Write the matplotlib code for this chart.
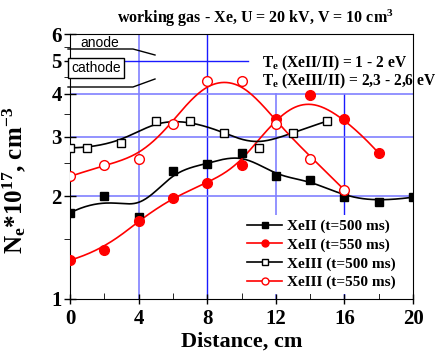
import numpy as np
import matplotlib.pyplot as plt
from matplotlib.lines import Line2D

# data (distance in cm, Ne in 1e17 cm^-3)
x_xe2_500 = [0, 2, 4, 6, 8, 10, 12, 14, 16, 18, 20]
y_xe2_500 = [1.79, 2.00, 1.74, 2.38, 2.49, 2.68, 2.29, 2.23, 1.99, 1.93, 1.99]

x_xe2_550 = [0, 2, 4, 6, 8, 10, 12, 14, 16, 18]
y_xe2_550 = [1.30, 1.39, 1.69, 1.98, 2.19, 2.47, 3.38, 3.97, 3.37, 2.68]

x_xe3_500 = [0, 1, 3, 5, 7, 9, 11, 13, 15]
y_xe3_500 = [2.78, 2.78, 2.88, 3.33, 3.33, 3.08, 2.78, 3.08, 3.33]

x_xe3_550 = [0, 2, 4, 6, 8, 10, 12, 14, 16]
y_xe3_550 = [2.29, 2.47, 2.58, 3.27, 4.37, 4.37, 3.27, 2.58, 2.09]

labels = ['XeII (t=500 ms)', 'XeII (t=550 ms)', 'XeIII (t=500 ms)', 'XeIII (t=550 ms)']
x_ticks = [0, 4, 8, 12, 16, 20]
y_ticks = [1, 2, 3, 4, 5, 6]


def bspline(xs, ys, n=300):
    # clamped cubic B-spline using the points as control points
    P = np.column_stack([xs, ys]).astype(float)
    k = 3
    m = len(P)
    knots = np.concatenate([[0] * k, np.linspace(0, 1, m - k + 1), [1] * k])
    t = np.linspace(0, 1, n)
    t[-1] = 1 - 1e-9
    B = np.zeros((n, len(knots) - 1))
    for i in range(len(knots) - 1):
        B[:, i] = (t >= knots[i]) & (t < knots[i + 1])
    for d in range(1, k + 1):
        Bn = np.zeros((n, len(knots) - 1 - d))
        for i in range(len(knots) - 1 - d):
            a = knots[i + d] - knots[i]
            b = knots[i + d + 1] - knots[i + 1]
            left = (t - knots[i]) / a * B[:, i] if a > 0 else 0
            right = (knots[i + d + 1] - t) / b * B[:, i + 1] if b > 0 else 0
            Bn[:, i] = left + right
        B = Bn
    C = B @ P
    return C[:, 0], C[:, 1]


plt.rcParams['font.family'] = 'Liberation Serif'
plt.rcParams['font.weight'] = 'bold'
plt.rcParams['mathtext.fontset'] = 'custom'
plt.rcParams['mathtext.bf'] = 'Liberation Serif:bold'
plt.rcParams['mathtext.rm'] = 'Liberation Serif:bold'
plt.rcParams['mathtext.it'] = 'Liberation Serif:bold'
plt.rcParams['mathtext.default'] = 'bf'

fig = plt.figure(figsize=(4.41, 3.58), dpi=100)
ax = fig.add_axes([70 / 441, 1 - 299 / 358, 343 / 441, 265 / 358])
ax.set_yscale('log')
ax.set_xlim(0, 20)
ax.set_ylim(1, 6)

light = '#8080ff'
dark = '#1a1aff'
top4 = np.log10(4) / np.log10(6)
ax.axvline(4, color=light, lw=1.2, zorder=1)
ax.axvline(8, color=dark, lw=1.0, zorder=1)
ax.axvline(12, color=light, lw=1.2, ymax=top4, zorder=1)
ax.axvline(16, color=dark, lw=1.0, ymax=top4, zorder=1)
for v in [2, 3, 4]:
    ax.axhline(v, color=light, lw=1.2, zorder=1)
ax.axhline(5, color=dark, lw=1.0, xmax=(248 - 70) / 343, zorder=1)

series = [
    (x_xe2_500, y_xe2_500, 'black', 's', 'black', 6),
    (x_xe2_550, y_xe2_550, 'red', 'o', 'red', 7),
    (x_xe3_500, y_xe3_500, 'black', 's', 'white', 6),
    (x_xe3_550, y_xe3_550, 'red', 'o', 'white', 7),
]
handles = []
for (xs, ys, c, m, fc, ms), lab in zip(series, labels):
    sx, sy = bspline(xs, ys)
    ax.plot(sx, sy, color=c, lw=1.2, zorder=3)
    ax.plot(xs, ys, ls='none', marker=m, ms=ms, mfc=fc, mec=c, mew=1.0, zorder=4)
    handles.append(Line2D([], [], color=c, lw=1.2, marker=m, ms=ms - 2, mfc=fc, mec=c))

ax.set_xticks(x_ticks)
ax.set_xticks(range(2, 20, 4), minor=True)
ax.set_yticks(y_ticks)
ax.set_yticks([1.5, 2.5, 3.5, 4.5, 5.5], minor=True)
ax.set_yticklabels([str(v) for v in y_ticks])
ax.yaxis.set_minor_formatter(plt.NullFormatter())
ax.tick_params(axis='both', which='major', labelsize=15, width=1)
ax.tick_params(axis='x', which='major', direction='inout', length=7)
ax.tick_params(axis='x', which='minor', direction='in', length=4)
ax.tick_params(axis='y', which='major', direction='inout', length=8, pad=2)
ax.tick_params(axis='y', which='minor', direction='out', length=4)

ax.set_xlabel('Distance, cm', fontsize=16, fontweight='bold', labelpad=2)
ax.set_ylabel(r'N$_{e}$*10$^{17}$, cm$^{-3}$', fontsize=18, fontweight='bold')
ax.yaxis.set_label_coords(-42 / 343, (299 - 180) / 265)

fig.text(255 / 441, 1 - 18 / 358, r'working gas - Xe, U = 20 kV, V = 10 cm$^{3}$',
         ha='center', va='center', fontsize=11.5, fontweight='bold')
fig.text(262 / 441, 1 - 63 / 358, r'T$_{e}$ (XeII/II) = 1 - 2 eV',
         ha='left', va='center', fontsize=11.2, fontweight='bold')
fig.text(262 / 441, 1 - 81 / 358, r'T$_{e}$ (XeIII/II) = 2,3 - 2,6 eV',
         ha='left', va='center', fontsize=11.2, fontweight='bold')

# anode / cathode sketch
fig.text(80 / 441, 1 - 43 / 358, 'anode', ha='left', va='center', fontsize=10,
         fontfamily='Liberation Sans', fontweight='normal')
fig.text(96 / 441, 1 - 68 / 358, 'cathode', ha='center', va='center', fontsize=10,
         fontfamily='Liberation Sans', fontweight='normal',
         bbox=dict(boxstyle='square,pad=0.25', fc='white', ec='black', lw=1))
fig.add_artist(Line2D([68 / 441, 133 / 441, 155 / 441],
                      [1 - 49 / 358, 1 - 49 / 358, 1 - 55 / 358], color='black', lw=1))
fig.add_artist(Line2D([68 / 441, 133 / 441, 155 / 441],
                      [1 - 87 / 358, 1 - 87 / 358, 1 - 79 / 358], color='black', lw=1))

leg = ax.legend(handles, labels, loc='lower right', bbox_to_anchor=(0.985, -0.01),
                frameon=True, framealpha=1, edgecolor='none',
                handlelength=2.3, handletextpad=0.3, labelspacing=0.32,
                borderpad=0.3, prop={'weight': 'bold', 'size': 11})
leg.set_zorder(5)

fig.savefig('out.png', dpi=100)
